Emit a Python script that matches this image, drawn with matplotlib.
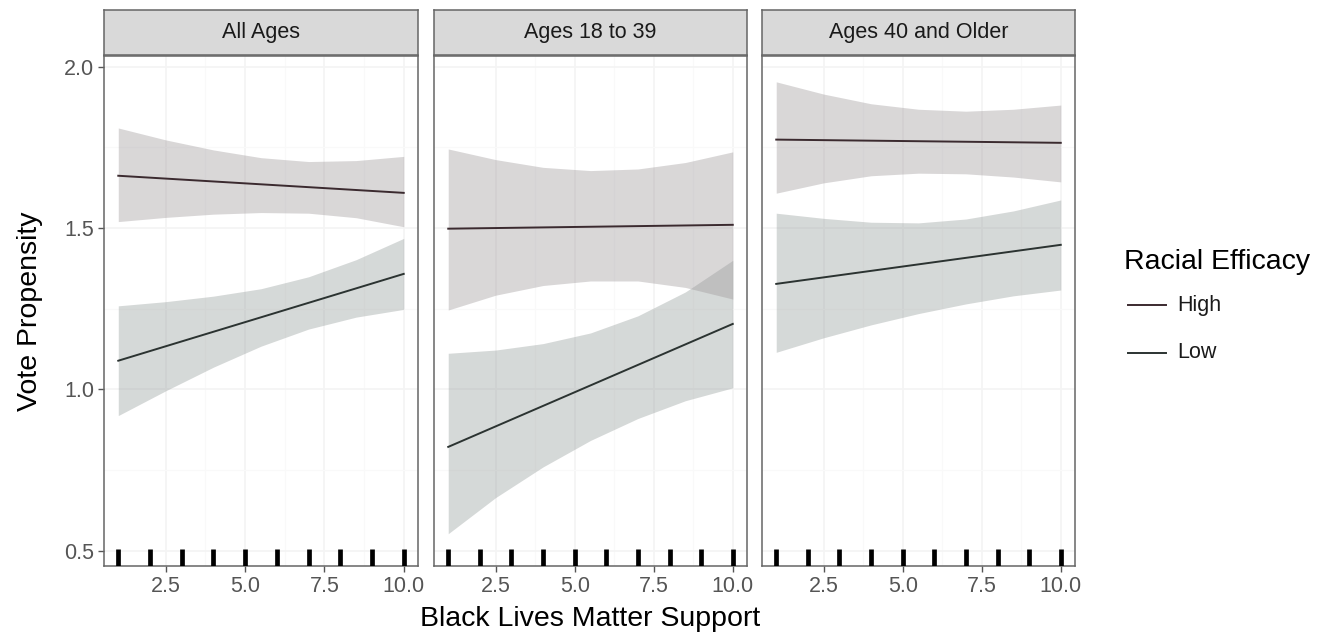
import numpy as np
import matplotlib.pyplot as plt
from matplotlib.lines import Line2D

plt.rcParams['font.family'] = ['Liberation Sans', 'DejaVu Sans']

# paneles (edades) y eje x
paneles = ['All Ages', 'Ages 18 to 39', 'Ages 40 and Older']
x_linea = [1, 10]
x_banda = [1, 2.5, 4, 5.5, 7, 8.5, 10]
x_rug = [1, 2, 3, 4, 5, 6, 7, 8, 9, 10]

# recta ajustada (extremos) para eficacia alta y baja, por panel
alta_linea = [[1.662, 1.609], [1.498, 1.510], [1.774, 1.764]]
baja_linea = [[1.089, 1.358], [0.822, 1.203], [1.327, 1.448]]

# intervalos de confianza (limite superior / inferior) en x_banda
alta_sup = [[1.810, 1.773, 1.742, 1.718, 1.706, 1.709, 1.722],
            [1.745, 1.712, 1.688, 1.678, 1.683, 1.703, 1.736],
            [1.953, 1.915, 1.885, 1.868, 1.862, 1.868, 1.881]]
alta_inf = [[1.520, 1.533, 1.543, 1.548, 1.546, 1.532, 1.504],
            [1.246, 1.292, 1.322, 1.336, 1.336, 1.316, 1.280],
            [1.608, 1.640, 1.662, 1.670, 1.668, 1.658, 1.643]]
baja_sup = [[1.259, 1.272, 1.289, 1.312, 1.349, 1.402, 1.468],
            [1.112, 1.122, 1.142, 1.175, 1.228, 1.302, 1.400],
            [1.546, 1.530, 1.518, 1.516, 1.528, 1.553, 1.587]]
baja_inf = [[0.919, 0.996, 1.069, 1.134, 1.187, 1.224, 1.248],
            [0.553, 0.665, 0.760, 0.842, 0.910, 0.965, 1.005],
            [1.115, 1.160, 1.200, 1.235, 1.265, 1.290, 1.308]]

W, H = 1338, 641
fig = plt.figure(figsize=(W / 100, H / 100), dpi=100)

# posiciones de los paneles en pixeles (izq, der)
bordes = [(104, 418), (434, 747), (762, 1075)]
arriba, abajo = 56, 566
strip_top = 10

borde_col = '#666666'
for i, (x0, x1) in enumerate(bordes):
    ax = fig.add_axes([x0 / W, 1 - abajo / H, (x1 - x0) / W, (abajo - arriba) / H])
    ax.set_xlim(0.55, 10.45)
    ax.set_ylim(0.453, 2.033)

    # grilla muy suave estilo theme_bw
    ax.set_xticks([2.5, 5.0, 7.5, 10.0])
    ax.set_xticks([3.75, 6.25, 8.75], minor=True)
    ax.set_yticks([0.5, 1.0, 1.5, 2.0])
    ax.set_yticks([0.75, 1.25, 1.75], minor=True)
    ax.grid(True, which='major', color='#F4F4F4', linewidth=1.2)
    ax.grid(True, which='minor', color='#F9F9F9', linewidth=0.8)
    ax.set_axisbelow(True)

    # bandas de confianza
    ax.fill_between(x_banda, baja_inf[i], baja_sup[i], color='#939B99', alpha=0.38,
                    linewidth=0, zorder=2)
    ax.fill_between(x_banda, alta_inf[i], alta_sup[i], color='#9C9698', alpha=0.38,
                    linewidth=0, zorder=2)
    # rectas
    ax.plot(x_linea, alta_linea[i], color='#3b2a2f', linewidth=1.4, zorder=3)
    ax.plot(x_linea, baja_linea[i], color='#2b3331', linewidth=1.4, zorder=3)

    # rug en la parte de abajo
    ax.vlines(x_rug, 0, 0.033, transform=ax.get_xaxis_transform(), color='black',
              linewidth=3.4, zorder=4)

    for s in ax.spines.values():
        s.set_color(borde_col)
        s.set_linewidth(1.1)

    ax.tick_params(which='major', direction='out', length=4, width=1, color='#555555',
                   labelcolor='#555555', labelsize=15.5, pad=3)
    ax.tick_params(which='minor', length=0)
    ax.set_xticklabels(['2.5', '5.0', '7.5', '10.0'])
    if i == 0:
        ax.set_yticklabels(['0.5', '1.0', '1.5', '2.0'])
    else:
        ax.tick_params(axis='y', left=False, labelleft=False)

    # franja con el titulo del panel
    st = fig.add_axes([x0 / W, 1 - (arriba - 1) / H, (x1 - x0) / W, (arriba - 1 - strip_top) / H])
    st.set_facecolor('#D9D9D9')
    st.set_xticks([])
    st.set_yticks([])
    for s in st.spines.values():
        s.set_color(borde_col)
        s.set_linewidth(1.1)
    st.text(0.5, 0.5, paneles[i], ha='center', va='center', fontsize=15.5,
            color='#1A1A1A', transform=st.transAxes)

# titulos de ejes
fig.text(590 / W, 1 - 619 / H, 'Black Lives Matter Support', ha='center', va='center',
         fontsize=20.5, color='black')
fig.text(30 / W, 1 - 311 / H, 'Vote Propensity', ha='center', va='center',
         rotation=90, fontsize=20.5, color='black')

# leyenda
fig.text(1124 / W, 1 - 262 / H, 'Racial Efficacy', ha='left', va='center',
         fontsize=20.5, color='black')
for etiqueta, col, yy in [('High', '#3b2a2f', 305), ('Low', '#2b3331', 353)]:
    fig.add_artist(Line2D([1128 / W, 1166 / W], [1 - yy / H, 1 - yy / H],
                          color=col, linewidth=1.4))
    fig.text(1177 / W, 1 - yy / H, etiqueta, ha='left', va='center', fontsize=15.5,
             color='#1A1A1A')

plt.savefig('out.png', dpi=100)
